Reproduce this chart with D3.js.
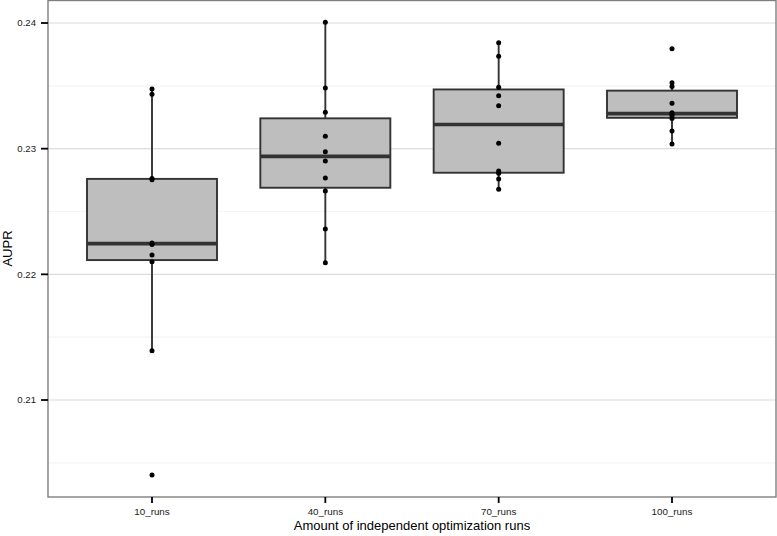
<!DOCTYPE html>
<html>
<head>
<meta charset="utf-8">
<script src="https://cdn.jsdelivr.net/npm/d3@7"></script>
<style>
  html, body { margin: 0; padding: 0; background: #fff; }
  svg { display: block; font-family: "Liberation Sans", Arial, Helvetica, sans-serif; }
</style>
</head>
<body>
<svg id="chart" width="777" height="536"></svg>
<script>
const categories = ["10_runs", "40_runs", "70_runs", "100_runs"];
const runs10  = [0.23475, 0.23433, 0.22762, 0.22752, 0.22250, 0.22238, 0.22154, 0.22100, 0.21392, 0.20403];
const runs40  = [0.24006, 0.23483, 0.23289, 0.23098, 0.22976, 0.22902, 0.22767, 0.22663, 0.22361, 0.22093];
const runs70  = [0.23843, 0.23735, 0.23488, 0.23421, 0.23342, 0.23043, 0.22822, 0.22804, 0.22759, 0.22677];
const runs100 = [0.23795, 0.23525, 0.23495, 0.23362, 0.23286, 0.23272, 0.23262, 0.23240, 0.23141, 0.23037];
const seriesValues = [runs10, runs40, runs70, runs100];
const yTicks = [0.21, 0.22, 0.23, 0.24];
const yMinorTicks = [0.205, 0.215, 0.225, 0.235];
const yDomain = [0.202282, 0.241830];
const xTitle = "Amount of independent optimization runs";
const yTitle = "AUPR";

const svg = d3.select("#chart");
const panel = { left: 48, top: 0, right: 776, bottom: 497 };

const y = d3.scaleLinear().domain(yDomain).range([panel.bottom, panel.top]);
const x = d3.scaleLinear().domain([0.4, categories.length + 0.6]).range([panel.left, panel.right]);
const unit = x(2) - x(1);
const boxW = 0.75 * unit;

// gridlines
svg.append("g").selectAll("line.minor").data(yMinorTicks).join("line")
  .attr("x1", panel.left).attr("x2", panel.right)
  .attr("y1", d => y(d)).attr("y2", d => y(d))
  .attr("stroke", "#f4f4f4").attr("stroke-width", 1.2);
svg.append("g").selectAll("line.major").data(yTicks).join("line")
  .attr("x1", panel.left).attr("x2", panel.right)
  .attr("y1", d => y(d)).attr("y2", d => y(d))
  .attr("stroke", "#dcdcdc").attr("stroke-width", 1.2);

// boxplot stats
function stats(vals) {
  const s = vals.slice().sort(d3.ascending);
  const q1 = d3.quantile(s, 0.25), med = d3.quantile(s, 0.5), q3 = d3.quantile(s, 0.75);
  const iqr = q3 - q1;
  const lo = q1 - 1.5 * iqr, hi = q3 + 1.5 * iqr;
  const inside = s.filter(v => v >= lo && v <= hi);
  return { q1, med, q3, wlo: d3.min(inside), whi: d3.max(inside) };
}

const boxes = svg.append("g");
seriesValues.forEach((vals, i) => {
  const st = stats(vals);
  const cx = x(i + 1);
  const g = boxes.append("g");
  g.append("line").attr("x1", cx).attr("x2", cx)
    .attr("y1", y(st.whi)).attr("y2", y(st.q3))
    .attr("stroke", "#333").attr("stroke-width", 1.9);
  g.append("line").attr("x1", cx).attr("x2", cx)
    .attr("y1", y(st.q1)).attr("y2", y(st.wlo))
    .attr("stroke", "#333").attr("stroke-width", 1.9);
  g.append("rect").attr("x", cx - boxW / 2).attr("width", boxW)
    .attr("y", y(st.q3)).attr("height", y(st.q1) - y(st.q3))
    .attr("fill", "#bebebe").attr("stroke", "#333").attr("stroke-width", 1.9);
  g.append("line").attr("x1", cx - boxW / 2).attr("x2", cx + boxW / 2)
    .attr("y1", y(st.med)).attr("y2", y(st.med))
    .attr("stroke", "#333").attr("stroke-width", 3.6);
});

// points
const pts = svg.append("g");
seriesValues.forEach((vals, i) => {
  pts.selectAll(null).data(vals).join("circle")
    .attr("cx", x(i + 1)).attr("cy", d => y(d)).attr("r", 2.5)
    .attr("fill", "#000");
});

// panel border
svg.append("rect")
  .attr("x", panel.left).attr("y", panel.top + 0.5)
  .attr("width", panel.right - panel.left).attr("height", panel.bottom - panel.top - 0.5)
  .attr("fill", "none").attr("stroke", "#7f7f7f").attr("stroke-width", 1.4);

// y axis
const yAxis = svg.append("g");
yAxis.selectAll("line").data(yTicks).join("line")
  .attr("x1", panel.left - 7).attr("x2", panel.left)
  .attr("y1", d => y(d)).attr("y2", d => y(d))
  .attr("stroke", "#000").attr("stroke-width", 1.8);
yAxis.selectAll("text").data(yTicks).join("text")
  .attr("x", panel.left - 12).attr("y", d => y(d)).attr("dy", "0.35em")
  .attr("text-anchor", "end").attr("font-size", 9.6).attr("fill", "#1a1a1a")
  .text(d => d3.format(".2f")(d));

// x axis
const xAxis = svg.append("g");
xAxis.selectAll("line").data(categories).join("line")
  .attr("x1", (d, i) => x(i + 1)).attr("x2", (d, i) => x(i + 1))
  .attr("y1", panel.bottom).attr("y2", panel.bottom + 6)
  .attr("stroke", "#000").attr("stroke-width", 1.8);
xAxis.selectAll("text").data(categories).join("text")
  .attr("x", (d, i) => x(i + 1)).attr("y", 515)
  .attr("text-anchor", "middle").attr("font-size", 9.8).attr("fill", "#1a1a1a")
  .text(d => d);

// titles
svg.append("text")
  .attr("x", (panel.left + panel.right) / 2).attr("y", 530)
  .attr("text-anchor", "middle").attr("font-size", 13).attr("fill", "#000")
  .text(xTitle);
svg.append("text")
  .attr("transform", `translate(12,${(panel.top + panel.bottom) / 2}) rotate(-90)`)
  .attr("text-anchor", "middle").attr("font-size", 13).attr("fill", "#000")
  .text(yTitle);
</script>
</body>
</html>
